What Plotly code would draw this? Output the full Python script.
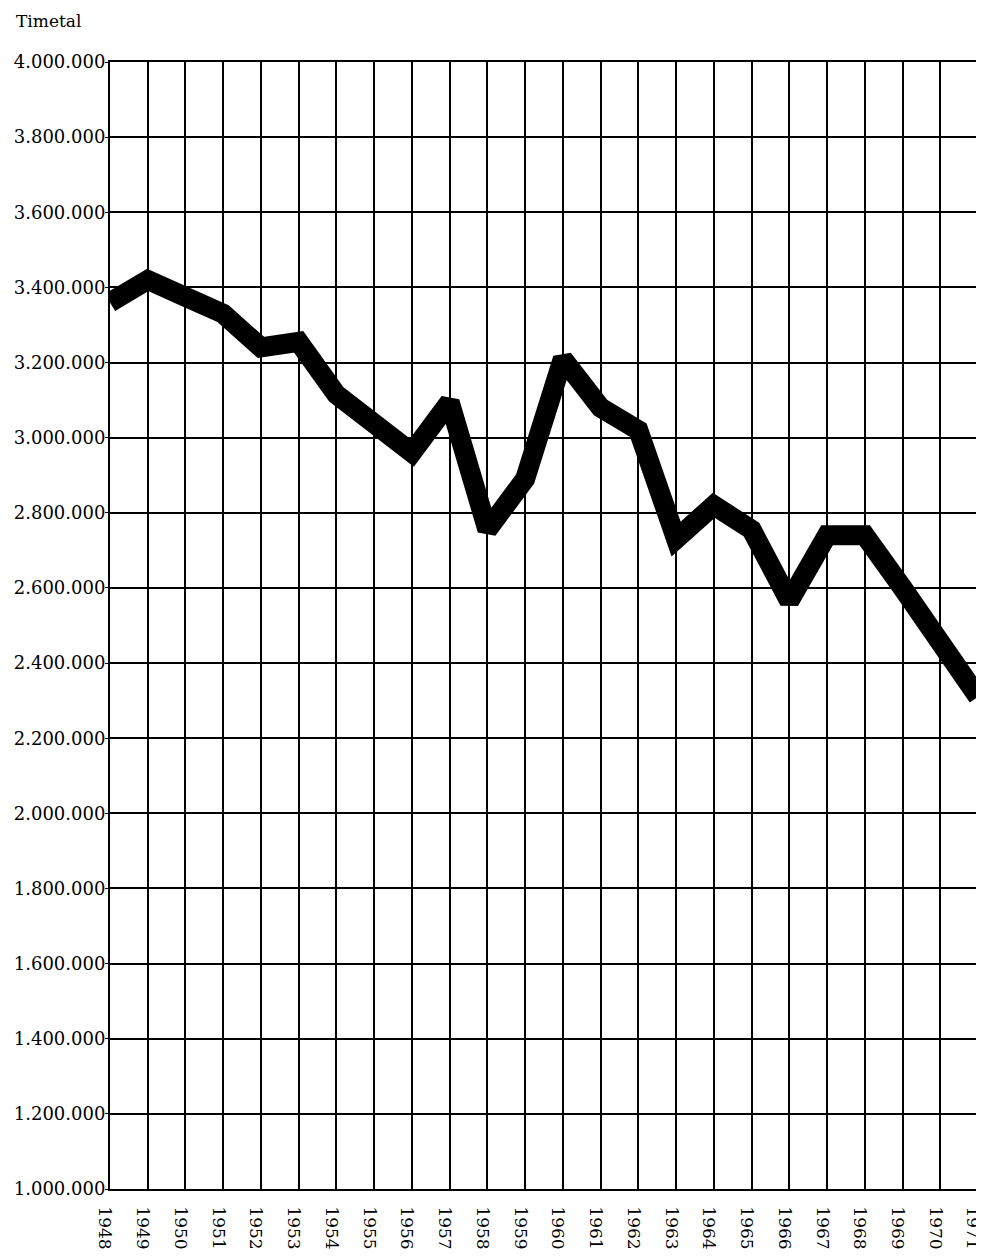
import plotly.graph_objects as go

years = list(range(1948, 1972))
timetal = [3360000, 3420000, 3375000, 3330000, 3240000, 3255000, 3115000, 3040000,
           2960000, 3095000, 2755000, 2890000, 3210000, 3080000, 3020000, 2730000,
           2820000, 2755000, 2565000, 2740000, 2740000, 2600000, 2455000, 2310000]

y_ticks = list(range(1000000, 4000001, 200000))
y_labels = [f"{v:,}".replace(",", ".") for v in y_ticks]
x_labels = [str(y) for y in years]

FONT = "DejaVu Serif"

fig = go.Figure()
fig.add_trace(go.Scatter(x=years, y=timetal, mode="lines",
                         line=dict(color="black", width=20), hoverinfo="skip"))

# page body has an 8px margin, so the figure is a bit smaller than the window
fig.update_layout(
    width=976, height=1248,
    margin=dict(l=102, r=6, t=54, b=67),
    paper_bgcolor="white", plot_bgcolor="white",
    showlegend=False,
    font=dict(family=FONT, size=17, color="black"),
    annotations=[dict(text="Timetal", xref="paper", yref="paper", x=-0.111, y=1.026,
                      xanchor="left", yanchor="bottom", showarrow=False,
                      font=dict(family=FONT, size=17, color="black"))],
)
fig.update_xaxes(range=[1948, 1971], tickvals=years, ticktext=x_labels, tickangle=90,
                 tickfont=dict(family=FONT, size=17, color="black"),
                 showgrid=True, gridcolor="black", gridwidth=2,
                 showline=True, linecolor="black", linewidth=2, mirror=True,
                 ticks="", zeroline=False, ticklabelstandoff=12, ticklabelshift=-5,
                 ticklabeloverflow="allow", automargin=False)
fig.update_yaxes(range=[1000000, 4000000], tickvals=y_ticks, ticktext=y_labels,
                 tickfont=dict(family=FONT, size=18, color="black"),
                 showgrid=True, gridcolor="black", gridwidth=2,
                 showline=True, linecolor="black", linewidth=2, mirror=True,
                 ticks="outside", ticklen=3, tickcolor="black", zeroline=False,
                 ticklabelstandoff=-4, automargin=False)

fig.write_html("out.html")
